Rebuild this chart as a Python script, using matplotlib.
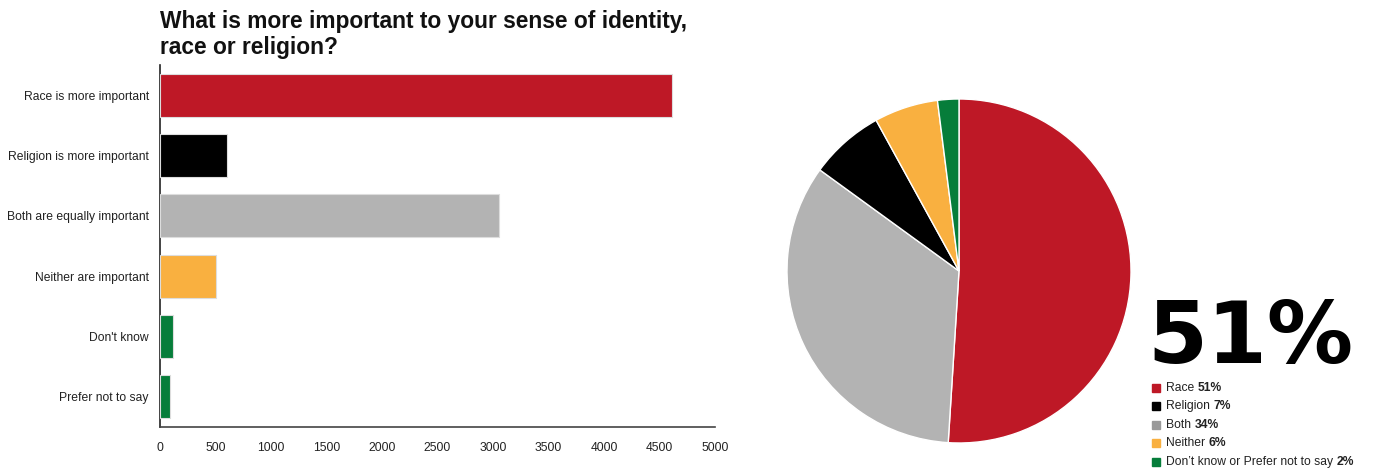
import matplotlib
matplotlib.use("Agg")
import matplotlib.pyplot as plt

plt.rcParams['font.family'] = ['Liberation Sans', 'DejaVu Sans']

# Survey responses (counts)
categories = ["Race is more important", "Religion is more important",
              "Both are equally important", "Neither are important",
              "Don't know", "Prefer not to say"]
counts = [4612, 603, 3054, 505, 117, 90]
bar_colors = ["#BE1826", "#000000", "#B3B3B3", "#F9B040", "#067D3A", "#067D3A"]
x_ticks = [0, 500, 1000, 1500, 2000, 2500, 3000, 3500, 4000, 4500, 5000]

# Summary shares (percent), clockwise from 12 o'clock
pie_labels = ["Race", "Both", "Religion", "Neither", "Don't know or Prefer not to say"]
pie_values = [51, 34, 7, 6, 2]
pie_colors = ["#BE1826", "#B3B3B3", "#000000", "#F9B040", "#067D3A"]

# Legend entries (in listed order)
legend_names = ["Race", "Religion", "Both", "Neither", "Don\u2019t know or Prefer not to say"]
legend_values = [51, 7, 34, 6, 2]
legend_colors = ["#BE1826", "#000000", "#999999", "#F9B040", "#067D3A"]
headline = "51%"

W, H = 1373, 468
fig = plt.figure(figsize=(W / 100, H / 100), dpi=100)

# ---- bar chart ----
ax = fig.add_axes([160 / W, (H - 427) / H, 555 / W, 362 / H])
ypos = list(range(len(categories)))
ax.barh(ypos, counts, height=0.71, color=bar_colors,
        edgecolor="#dddddd", linewidth=0.8, zorder=3)
ax.set_ylim(len(categories) - 0.5, -0.5)
ax.set_xlim(0, 5000)
ax.set_yticks(ypos)
ax.set_yticklabels(categories, fontsize=8.7, color="#222222")
ax.set_xticks(x_ticks)
ax.set_xticklabels([str(v) for v in x_ticks], fontsize=8.7, color="#222222")
ax.tick_params(axis="y", length=0, pad=8)
ax.tick_params(axis="x", length=0, pad=11)
for s in ["top", "right"]:
    ax.spines[s].set_visible(False)
ax.spines["left"].set_color("#222222")
ax.spines["left"].set_linewidth(1.2)
ax.spines["bottom"].set_color("#444444")
ax.spines["bottom"].set_linewidth(1.2)

fig.text(160 / W, 1 - 34.5 / H, "What is more important to your sense of identity,\nrace or religion?",
         fontsize=16.4, fontweight="bold", color="#111111", va="center", ha="left",
         linespacing=1.12)

# ---- pie chart ----
r = 172
pax = fig.add_axes([(959 - r) / W, (H - 271 - r) / H, 2 * r / W, 2 * r / H])
pax.pie(pie_values, colors=pie_colors, startangle=90, counterclock=False,
        radius=1, wedgeprops=dict(edgecolor="white", linewidth=1))
pax.set_xlim(-1, 1)
pax.set_ylim(-1, 1)
pax.set_aspect("equal")
pax.axis("off")

# ---- headline and legend ----
fig.text(1147 / W, 1 - 363 / H, headline, fontsize=62, fontweight="bold",
         family=["DejaVu Sans"], color="black", va="baseline", ha="left")

row_y = [388, 406, 425, 443, 462]
for name, val, col, y in zip(legend_names, legend_values, legend_colors, row_y):
    fig.patches.append(plt.Rectangle((1152 / W, 1 - (y + 4) / H), 8 / W, 8 / H,
                                     transform=fig.transFigure, color=col))
    t = fig.text(1166 / W, 1 - y / H, name + " ", fontsize=8.75, color="#222222",
                 va="center", ha="left")
    fig.canvas.draw()
    bb = t.get_window_extent()
    fig.text(bb.x1 / W, 1 - y / H, f"{val}%", fontsize=8.75, fontweight="bold",
             color="#222222", va="center", ha="left")

fig.savefig("out.png", dpi=100)
